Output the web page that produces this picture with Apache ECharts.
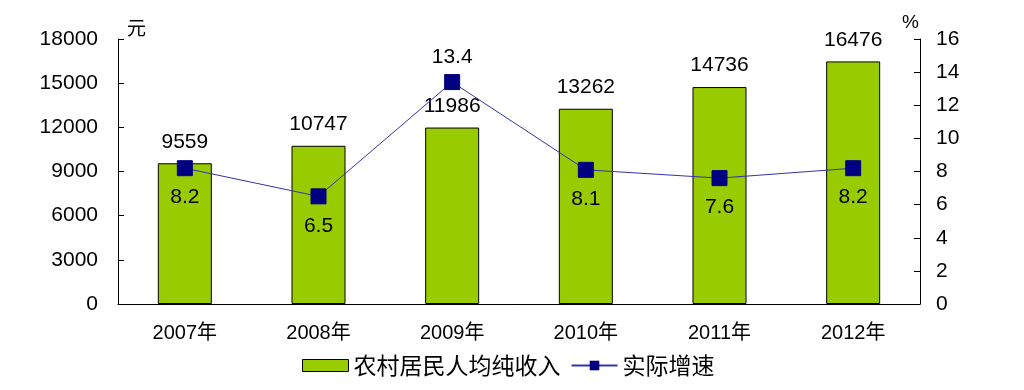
<!DOCTYPE html>
<html>
<head>
<meta charset="utf-8">
<script src="https://cdn.jsdelivr.net/npm/echarts@6/dist/echarts.min.js"></script>
<style>
html,body{margin:0;padding:0;background:#fff;}
#main{width:1024px;height:390px;}
</style>
</head>
<body>
<div id="main"></div>
<script>
const categories = ['2007年', '2008年', '2009年', '2010年', '2011年', '2012年'];
const incomeValues = [9559, 10747, 11986, 13262, 14736, 16476];
const growthValues = [8.2, 6.5, 13.4, 8.1, 7.6, 8.2];
const incomeName = '农村居民人均纯收入';
const growthName = '实际增速';

const FONT = '"Liberation Sans", Arial, "Noto Sans CJK SC", sans-serif';
const maxGrowthIdx = growthValues.indexOf(Math.max(...growthValues));

const chart = echarts.init(document.getElementById('main'));
chart.setOption({
  animation: false,
  backgroundColor: '#fff',
  textStyle: { fontFamily: FONT, color: '#000' },
  grid: { left: 118, right: 104, top: 39, bottom: 86 },
  legend: {
    bottom: 8,
    left: 297,
    itemWidth: 46,
    itemHeight: 12,
    itemGap: 10,
    textStyle: { fontSize: 23, color: '#000', fontFamily: '"Noto Sans CJK SC", sans-serif' },
    data: [
      { name: incomeName, icon: 'rect', itemStyle: { color: '#99CC00', borderColor: '#000', borderWidth: 1 } },
      { name: growthName }
    ]
  },
  xAxis: {
    type: 'category',
    data: categories,
    axisLine: { lineStyle: { color: '#000', width: 1 } },
    axisTick: { inside: true, length: 6, lineStyle: { color: '#000' } },
    axisLabel: { fontSize: 20, color: '#000', margin: 19, fontFamily: FONT }
  },
  yAxis: [
    {
      type: 'value', min: 0, max: 18000, interval: 3000,
      name: '元',
      nameLocation: 'end',
      nameGap: 2,
      nameTextStyle: { fontSize: 19, color: '#000', align: 'left', verticalAlign: 'bottom', padding: [0, 0, 0, 9], fontFamily: '"Noto Sans CJK SC", sans-serif' },
      axisLine: { show: true, lineStyle: { color: '#000', width: 1 } },
      axisTick: { show: true, inside: true, length: 6, lineStyle: { color: '#000' } },
      axisLabel: { fontSize: 21, color: '#000', margin: 20, formatter: v => String(v) },
      splitLine: { show: false }
    },
    {
      type: 'value', min: 0, max: 16, interval: 2,
      position: 'right',
      name: '%',
      nameLocation: 'end',
      nameGap: 7,
      nameTextStyle: { fontSize: 19, color: '#000', align: 'right', verticalAlign: 'bottom', padding: [0, 1, 0, 0] },
      axisLine: { show: true, lineStyle: { color: '#000', width: 1 } },
      axisTick: { show: true, inside: true, length: 6, lineStyle: { color: '#000' } },
      axisLabel: { fontSize: 21, color: '#000', margin: 16 },
      splitLine: { show: false }
    }
  ],
  series: [
    {
      name: incomeName,
      type: 'bar',
      yAxisIndex: 0,
      data: incomeValues,
      barWidth: 54,
      itemStyle: { color: '#99CC00', borderColor: '#000', borderWidth: 1 },
      label: { show: true, position: 'top', distance: 11, fontSize: 21, color: '#000' },
      z: 2
    },
    {
      name: growthName,
      type: 'line',
      yAxisIndex: 1,
      data: growthValues.map((v, i) => ({
        value: v,
        label: { position: i === maxGrowthIdx ? 'top' : 'bottom', distance: i === maxGrowthIdx ? 6 : 11 }
      })),
      symbol: 'rect',
      symbolSize: 15,
      lineStyle: { color: '#3333AA', width: 1 },
      itemStyle: { color: '#000080', borderColor: '#000080' },
      label: { show: true, fontSize: 21, color: '#000' },
      z: 3
    }
  ]
});
</script>
</body>
</html>
